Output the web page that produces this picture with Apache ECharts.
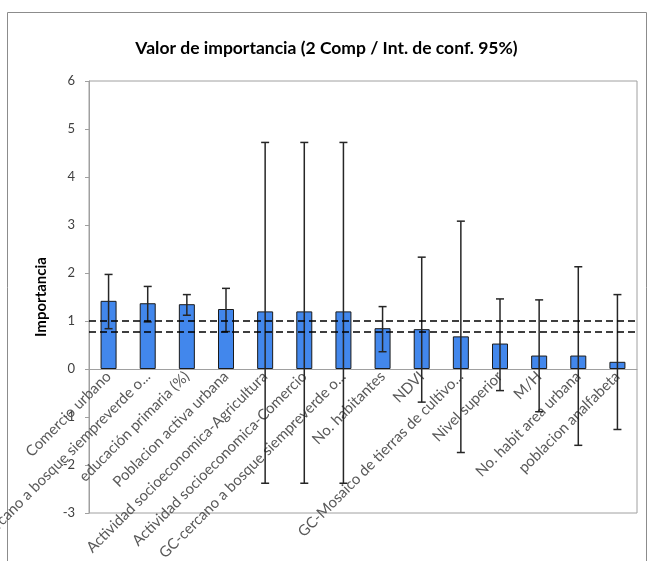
<!DOCTYPE html>
<html>
<head>
<meta charset="utf-8">
<script src="https://cdn.jsdelivr.net/npm/echarts@6/dist/echarts.min.js"></script>
<style>
  html, body { margin: 0; padding: 0; background: #fff; }
  #main { width: 653px; height: 561px; }
</style>
</head>
<body>
<div id="main"></div>
<script>
var variables = [
  'Comercio urbano',
  'GC-cercano a bosque siempreverde o...',
  'educación primaria (%)',
  'Poblacion activa urbana',
  'Actividad socioeconomica-Agricultura',
  'Actividad socioeconomica-Comercio',
  'GC-cercano a bosque siempreverde o...',
  'No. habitantes',
  'NDVI',
  'GC-Mosaico de tierras de cultivo...',
  'Nivel superior',
  'M/H',
  'No. habit area urbana',
  'poblacion analfabeta'
];
var importancia = [1.42, 1.37, 1.35, 1.25, 1.2, 1.2, 1.2, 0.85, 0.83, 0.68, 0.53, 0.28, 0.28, 0.15];
var limInf = [0.84, 0.98, 1.12, 0.78, -2.38, -2.38, -2.38, 0.36, -0.69, -1.74, -0.45, -0.89, -1.59, -1.26];
var limSup = [1.97, 1.72, 1.55, 1.68, 4.72, 4.72, 4.72, 1.3, 2.33, 3.08, 1.46, 1.44, 2.13, 1.55];
var lineasRef = [1.0, 0.78];
var yMin = -3, yMax = 6;

var myChart = echarts.init(document.getElementById('main'));

var gridTop = 81, gridBottom = 48;
var gridH = 561 - gridTop - gridBottom;
// el eje de categorias va sobre el cero
var offsetCero = -gridH * (0 - yMin) / (yMax - yMin);

var errData = [];
for (var i = 0; i < variables.length; i++) {
  errData.push([i, limInf[i], limSup[i]]);
}

var option = {
  animation: false,
  textStyle: { fontFamily: 'Lato' },
  title: {
    text: 'Valor de importancia (2 Comp / Int. de conf. 95%)',
    left: 'center',
    top: 34,
    textStyle: { fontFamily: 'Lato', fontSize: 17.5, fontWeight: 'bold', color: '#000' }
  },
  graphic: [{
    type: 'rect',
    shape: { x: 7.5, y: 12.5, width: 639, height: 560 },
    style: { fill: 'none', stroke: '#8c8c8c', lineWidth: 1 },
    silent: true
  }],
  grid: {
    left: 89, right: 16, top: gridTop, bottom: gridBottom,
    outerBoundsMode: 'none',
    containLabel: false,
    show: true, borderColor: '#a0a0a0', borderWidth: 1
  },
  xAxis: {
    type: 'category',
    data: variables,
    offset: offsetCero,
    axisLine: { onZero: false, lineStyle: { color: '#a0a0a0' } },
    axisTick: { show: false },
    axisLabel: {
      interval: 0, rotate: 45, margin: 5,
      fontSize: 15, color: '#595959', fontFamily: 'Lato'
    }
  },
  yAxis: {
    type: 'value',
    min: yMin, max: yMax, interval: 1,
    name: 'Importancia',
    nameLocation: 'middle',
    nameGap: 40,
    nameRotate: 90,
    nameTextStyle: { fontFamily: 'Lato', fontSize: 15, fontWeight: 'bold', color: '#000' },
    splitLine: { show: false },
    axisLine: { show: true, lineStyle: { color: '#a0a0a0' } },
    axisTick: { show: true, length: 4, lineStyle: { color: '#a0a0a0' } },
    axisLabel: { fontSize: 13, color: '#404040', margin: 14 }
  },
  series: [{
    name: 'Importancia',
    type: 'bar',
    data: importancia,
    barWidth: 16,
    itemStyle: { color: '#4287ec', borderColor: '#1a1a1a', borderWidth: 1 },
    markLine: {
      silent: true,
      symbol: 'none',
      label: { show: false },
      lineStyle: { color: '#000', type: [7, 4], width: 1.5 },
      data: lineasRef.map(function (v) { return { yAxis: v }; })
    },
    z: 2
  }, {
    name: 'IC 95%',
    type: 'custom',
    data: errData,
    z: 3,
    renderItem: function (params, api) {
      var x = api.value(0);
      var lo = api.coord([x, api.value(1)]);
      var hi = api.coord([x, api.value(2)]);
      var w = 4;
      var st = { stroke: '#262626', lineWidth: 1.5 };
      return {
        type: 'group',
        children: [
          { type: 'line', shape: { x1: lo[0], y1: lo[1], x2: hi[0], y2: hi[1] }, style: st },
          { type: 'line', shape: { x1: hi[0] - w, y1: hi[1], x2: hi[0] + w, y2: hi[1] }, style: st },
          { type: 'line', shape: { x1: lo[0] - w, y1: lo[1], x2: lo[0] + w, y2: lo[1] }, style: st }
        ]
      };
    }
  }]
};
myChart.setOption(option);
</script>
</body>
</html>
